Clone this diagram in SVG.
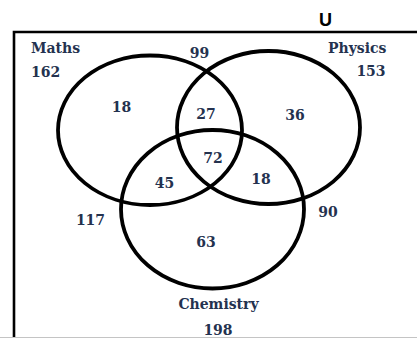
<svg xmlns="http://www.w3.org/2000/svg" width="417" height="338" viewBox="0 0 417 338">
  <style>
    .set { fill: none; stroke: #000; stroke-width: 3.8; }
    .t { font-family: "DejaVu Serif", "Liberation Serif", serif; font-weight: bold; font-size: 14px; fill: #24324f; }
    .c { text-anchor: middle; }
  </style>
  <rect width="417" height="338" fill="#ffffff"/>
  <g id="universe">
    <line x1="0" y1="337.5" x2="417" y2="337.5" stroke="#c4c4c4" stroke-width="1"/>
    <path d="M14 337 V32 H417" fill="none" stroke="#000" stroke-width="2.6"/>
    <text x="319" y="26" font-family="Liberation Sans, Arial, sans-serif" font-weight="bold" font-size="18" fill="#000">U</text>
  </g>
  <g id="set-maths">
    <ellipse class="set" cx="150" cy="130.25" rx="92" ry="74.75"/>
    <text class="t" x="31" y="52.5">Maths</text>
    <text class="t" x="31" y="76.5">162</text>
  </g>
  <g id="set-physics">
    <ellipse class="set" cx="268.5" cy="127.5" rx="91.5" ry="76.5"/>
    <text class="t" x="328" y="52.5">Physics</text>
    <text class="t c" x="371" y="75.5">153</text>
  </g>
  <g id="set-chemistry">
    <ellipse class="set" cx="212.5" cy="209.25" rx="91.5" ry="79.25"/>
    <text class="t c" x="218.5" y="308.5">Chemistry</text>
    <text class="t c" x="218" y="334.5">198</text>
  </g>
  <g id="regions">
    <text class="t c" x="199.5" y="57.5">99</text>
    <text class="t c" x="121.5" y="111.5">18</text>
    <text class="t c" x="206" y="118.5">27</text>
    <text class="t c" x="295" y="120">36</text>
    <text class="t c" x="213" y="162.5">72</text>
    <text class="t c" x="164.5" y="187.5">45</text>
    <text class="t c" x="261" y="184">18</text>
    <text class="t c" x="90.5" y="225">117</text>
    <text class="t c" x="328" y="216.5">90</text>
    <text class="t c" x="206" y="246.5">63</text>
  </g>
  <g id="connectors"></g>
</svg>
